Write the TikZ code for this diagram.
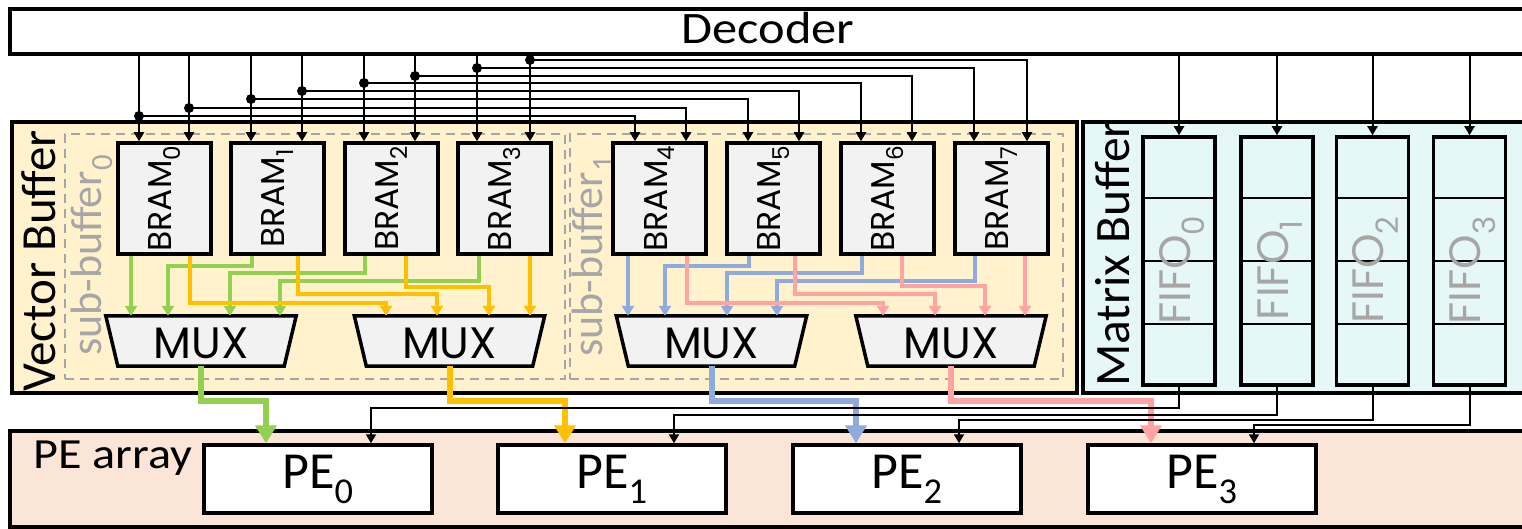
\documentclass[tikz,border=0pt]{standalone}
\usepackage{fontspec}
\usepackage{graphicx}
\setmainfont{Carlito}
\newfontfamily\geo{Poppins}
\usetikzlibrary{arrows.meta,calc}
\definecolor{vbfill}{HTML}{FFF2CC}
\definecolor{mbfill}{HTML}{E6F7F7}
\definecolor{pafill}{HTML}{FBE5D6}
\definecolor{boxgray}{HTML}{F2F2F2}
\definecolor{dashgray}{HTML}{A6A6A6}
\definecolor{txtgray}{HTML}{A6A6A6}
\definecolor{cgreen}{HTML}{92D050}
\definecolor{cyellow}{HTML}{FFC000}
\definecolor{cblue}{HTML}{8FAADC}
\definecolor{cpink}{HTML}{FFA3A3}
\begin{document}
\begin{tikzpicture}[x=1pt,y=-1pt,
  boxline/.style={draw,line width=3.5pt,inner sep=0pt},
  bram/.style={boxline,fill=boxgray,minimum width=93pt,minimum height=111pt},
  fifo/.style={boxline,minimum width=72pt,minimum height=248pt},
  pe/.style={boxline,fill=white,minimum width=228pt,minimum height=68pt,font=\fontsize{52}{60}\selectfont},
  subbuf/.style={draw=dashgray,line width=2pt,dash pattern=on 9pt off 6pt,inner sep=0pt},
  bk/.style={draw=black,line width=2pt,-{Triangle[width=10pt,length=9pt]}},
  jdot/.style={circle,fill=black,inner sep=0pt,minimum size=10pt},
  cwire/.style={line width=4.5pt,-{Triangle[width=12pt,length=10pt]}},
  outw/.style={line width=6pt,-{Triangle[width=21pt,length=18pt]}},
  muxtxt/.style={font=\geo\fontsize{44}{48}\selectfont,inner sep=0pt},
  rlabel/.style={rotate=90,anchor=west,inner sep=0pt},
]
\useasboundingbox (0,0) rectangle (1522,529);
\clip (0,0) rectangle (1522,529);
\fill[white] (0,0) rectangle (1522,529);

% containers
\node[boxline,fill=white,minimum width=1530pt,minimum height=45pt] (dec) at (775,31.5) {};
\node[anchor=base,inner sep=0pt] (dectxt) at (768,44) {\scalebox{1.12}[1]{\fontsize{45}{48}\selectfont Decoder}};
\node[boxline,fill=vbfill,minimum width=1065pt,minimum height=271pt] (vb) at (544.5,257.5) {};
\node[boxline,fill=mbfill,minimum width=457pt,minimum height=271pt] (mb) at (1311.5,257.5) {};
\node[boxline,fill=pafill,minimum width=1530pt,minimum height=96pt] (pa) at (775,479) {};

\node[rlabel,font=\fontsize{49}{52}\selectfont] (vbl) at (39,392) {Vector Buffer};
\begin{scope}
  \clip (1083,123.5) rectangle (1540,393);
  \node[rlabel,font=\fontsize{49.5}{52}\selectfont] (mbl) at (1113,387) {Matrix Buffer};
\end{scope}
\node[anchor=base west,inner sep=0pt] (pal) at (33,468) {\scalebox{1.12}[1]{\fontsize{43}{46}\selectfont PE array}};

% sub-buffers
\node[subbuf,minimum width=500pt,minimum height=245pt] (sb0) at (315,256.5) {};
\node[subbuf,minimum width=493pt,minimum height=245pt] (sb1) at (816.5,256.5) {};
\node[rlabel,text=txtgray,font=\fontsize{44}{46}\selectfont] (sbl0) at (92,356) {sub-buffer\textsubscript{0}};
\node[rlabel,text=txtgray,font=\fontsize{44}{46}\selectfont] (sbl1) at (593,357) {sub-buffer\textsubscript{1}};

% BRAMs
\foreach \i/\x in {0/164.5,1/277.5,2/391.5,3/504.5,4/659.5,5/773.5,6/887.5,7/1001.5}
  \node[bram] (b\i) at (\x,198.5) {\rotatebox{90}{\geo\fontsize{33}{35}\selectfont BRAM\textsubscript{\i}}};

% FIFOs
\foreach \i/\x in {0/1179,1/1277,2/1372.5,3/1469.5} {
  \node[fifo] (f\i) at (\x,261) {};
  \foreach \t in {0.25,0.5,0.75}
    \draw[line width=2pt] ($(f\i.north west)!\t!(f\i.south west)$) -- ($(f\i.north east)!\t!(f\i.south east)$);
  \node[rotate=90,inner sep=0pt,text=txtgray,font=\geo\fontsize{44}{46}\selectfont] (fl\i) at (\x+3,270) {FIFO\textsubscript{\i}};
}

% MUXes
\foreach \i/\x in {0/201,1/449.5,2/711.5,3/951} {
  \node[minimum width=190pt,minimum height=50pt,inner sep=0pt] (m\i) at (\x,341) {};
  \draw[line width=3.5pt,fill=boxgray] (m\i.north west) -- (m\i.north east) -- ($(m\i.south east)+(-12,0)$) -- ($(m\i.south west)+(12,0)$) -- cycle;
  \node[muxtxt] (mt\i) at ($(m\i.center)+(0,2)$) {MUX};
}

% PEs
\foreach \i/\x in {0/318,1/612,2/907,3/1202}
  \node[pe] (p\i) at (\x,479) {PE\textsubscript{\i}};

% decoder -> BRAM 0..3
\foreach \x/\b in {139/b0,189/b0,251/b1,302/b1,364/b2,415/b2,477/b3,530/b3}
  \draw[bk] (dec.south -| \x,0) -- (\b.north -| \x,0);
% branches to BRAM 4..7
\foreach \x/\y/\tx/\b in {139/116/635/b4,189/108/686/b4,251/99/748/b5,302/91/799/b5,364/83/861/b6,415/76/912/b6,477/68/974/b7,530/60/1027/b7} {
  \node[jdot] (d\x) at (\x,\y) {};
  \draw[bk] (d\x.center) -| (\b.north -| \tx,0);
}
% decoder -> FIFOs
\foreach \i in {0,...,3}
  \draw[bk] (dec.south -| f\i.north) -- (f\i.north);

% green wires -> MUX0
\draw[cwire,cgreen] (b0.south -| 131,0) -- (m0.north -| 131,0);
\draw[cwire,cgreen] (b1.south -| 252,0) |- (168,266) -- (m0.north -| 168,0);
\draw[cwire,cgreen] (b2.south -| 365,0) |- (230,273) -- (m0.north -| 230,0);
\draw[cwire,cgreen] (b3.south -| 479,0) |- (280,281) -- (m0.north -| 280,0);
% yellow wires -> MUX1
\draw[cwire,cyellow] (b0.south -| 190,0) |- (386,303) -- (m1.north -| 386,0);
\draw[cwire,cyellow] (b1.south -| 298,0) |- (437,294) -- (m1.north -| 437,0);
\draw[cwire,cyellow] (b2.south -| 406,0) |- (489,287) -- (m1.north -| 489,0);
\draw[cwire,cyellow] (b3.south -| 530,0) -- (m1.north -| 530,0);
% blue wires -> MUX2
\draw[cwire,cblue] (b4.south -| 628,0) -- (m2.north -| 628,0);
\draw[cwire,cblue] (b5.south -| 749,0) |- (665,266) -- (m2.north -| 665,0);
\draw[cwire,cblue] (b6.south -| 862,0) |- (727,273) -- (m2.north -| 727,0);
\draw[cwire,cblue] (b7.south -| 975,0) |- (777,281) -- (m2.north -| 777,0);
% pink wires -> MUX3
\draw[cwire,cpink] (b4.south -| 687,0) |- (883,303) -- (m3.north -| 883,0);
\draw[cwire,cpink] (b5.south -| 795,0) |- (935,294) -- (m3.north -| 935,0);
\draw[cwire,cpink] (b6.south -| 902,0) |- (985,286) -- (m3.north -| 985,0);
\draw[cwire,cpink] (b7.south -| 1025,0) -- (m3.north -| 1025,0);

% MUX -> PE
\draw[outw,cgreen] (m0.south) |- (266,401) -- (p0.north -| 266,0);
\draw[outw,cyellow] (m1.south) |- (565,401) -- (p1.north -| 565,0);
\draw[outw,cblue] (m2.south) |- (856,401) -- (p2.north -| 856,0);
\draw[outw,cpink] (m3.south) |- (1151,401) -- (p3.north -| 1151,0);

% FIFO -> PE
\draw[bk] (f0.south) |- (371,408) -- (p0.north -| 371,0);
\draw[bk] (f1.south) |- (674,415) -- (p1.north -| 674,0);
\draw[bk] (f2.south) |- (959,420) -- (p2.north -| 959,0);
\draw[bk] (f3.south) |- (1254,425) -- (p3.north -| 1254,0);
\end{tikzpicture}
\end{document}
